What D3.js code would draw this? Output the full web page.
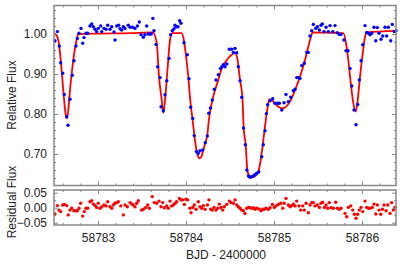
<!DOCTYPE html>
<html>
<head>
<meta charset="utf-8">
<script src="https://cdn.jsdelivr.net/npm/d3@7"></script>
<style>
  html, body { margin: 0; padding: 0; background: #fff; }
  svg text { font-family: "Liberation Sans", Arial, sans-serif; font-size: 12px; fill: #222; }
</style>
</head>
<body>
<div id="chart"></div>
<script>
// observed light curve (BJD - 2400000, relative flux)
const obsTime = [58782.511,58782.538,58782.560,58782.576,58782.599,58782.617,58782.644,58782.659,58782.682,58782.708,
  58782.727,58782.750,58782.765,58782.784,58782.807,58782.826,58782.841,58782.864,58782.883,58782.909,
  58782.928,58782.947,58782.966,58782.985,58783.003,58783.031,58783.042,58783.068,58783.091,58783.110,
  58783.136,58783.156,58783.182,58783.193,58783.213,58783.235,58783.250,58783.269,58783.288,58783.307,
  58783.344,58783.364,58783.394,58783.420,58783.447,58783.469,58783.489,58783.515,58783.534,58783.553,
  58783.572,58783.591,58783.605,58783.623,58783.636,58783.659,58783.678,58783.705,58783.716,58783.742,
  58783.761,58783.781,58783.807,58783.826,58783.844,58783.864,58783.875,58783.894,58783.909,58783.928,
  58783.943,58783.977,58784.015,58784.034,58784.053,58784.076,58784.094,58784.118,58784.139,58784.159,
  58784.190,58784.219,58784.242,58784.258,58784.278,58784.299,58784.322,58784.341,58784.367,58784.392,
  58784.408,58784.424,58784.443,58784.463,58784.492,58784.519,58784.538,58784.557,58784.576,58784.594,
  58784.614,58784.633,58784.653,58784.674,58784.691,58784.710,58784.727,58784.747,58784.765,58784.784,
  58784.803,58784.826,58784.860,58784.878,58784.898,58784.913,58784.927,58784.955,58784.985,58785.011,
  58785.038,58785.060,58785.088,58785.114,58785.136,58785.163,58785.190,58785.219,58785.239,58785.258,
  58785.276,58785.295,58785.315,58785.344,58785.372,58785.390,58785.409,58785.428,58785.447,58785.474,
  58785.492,58785.515,58785.534,58785.549,58785.568,58785.591,58785.617,58785.636,58785.667,58785.693,
  58785.719,58785.742,58785.761,58785.795,58785.818,58785.841,58785.864,58785.883,58785.909,58785.932,
  58785.951,58785.969,58785.989,58786.008,58786.034,58786.053,58786.072,58786.091,58786.110,58786.136,
  58786.156,58786.174,58786.193,58786.216,58786.235,58786.261,58786.280,58786.299,58786.326,58786.344,
  58786.367,58786.386];
const obsFlux = [0.983,1.006,0.970,0.928,0.902,0.849,0.793,0.772,0.837,0.897,
  0.933,0.970,0.989,1.002,1.014,0.977,0.991,1.002,1.002,1.020,
  1.025,1.018,1.012,1.006,1.014,1.020,1.006,1.014,1.012,1.022,
  1.012,1.018,1.005,0.985,1.020,1.022,1.013,1.010,1.018,1.014,
  1.022,1.017,1.017,1.014,1.020,1.030,0.998,0.992,0.998,1.020,
  1.000,1.000,1.000,1.039,1.008,0.974,0.918,0.891,0.818,0.808,
  0.848,0.883,0.939,0.998,1.008,1.013,1.022,1.018,1.018,1.033,
  1.027,0.978,0.948,0.888,0.817,0.789,0.746,0.706,0.702,0.708,
  0.710,0.728,0.745,0.802,0.815,0.835,0.862,0.885,0.898,0.914,
  0.918,0.923,0.918,0.925,0.962,0.962,0.954,0.964,0.953,0.918,
  0.883,0.842,0.765,0.723,0.660,0.645,0.642,0.643,0.645,0.648,
  0.652,0.655,0.693,0.723,0.758,0.801,0.823,0.833,0.838,0.827,
  0.827,0.827,0.810,0.828,0.849,0.831,0.842,0.858,0.862,0.891,
  0.891,0.889,0.921,0.927,0.954,0.954,0.995,1.008,1.024,1.014,
  1.018,1.010,1.022,1.025,1.006,1.017,1.006,1.021,1.006,1.021,
  1.003,0.999,0.999,0.985,0.958,0.958,0.914,0.870,0.810,0.773,
  0.824,0.885,0.933,0.973,1.021,1.004,1.002,0.998,1.002,1.017,
  0.983,1.016,1.002,0.987,0.995,1.017,0.995,1.017,0.983,1.024,
  1.006,1.008];

// fitted model
const modelTime = [58782.500,58782.523,58782.549,58782.568,58782.591,58782.608,58782.633,58782.644,58782.659,58782.682,
  58782.719,58782.750,58782.776,58783.023,58783.364,58783.622,58783.667,58783.693,58783.724,58783.742,
  58783.765,58783.792,58783.818,58783.844,58783.950,58783.975,58784.000,58784.025,58784.050,58784.075,
  58784.100,58784.125,58784.151,58784.174,58784.197,58784.219,58784.242,58784.262,58784.292,58784.330,
  58784.367,58784.406,58784.463,58784.519,58784.557,58784.583,58784.614,58784.640,58784.656,58784.678,
  58784.697,58784.719,58784.747,58784.784,58784.822,58784.845,58784.867,58784.890,58784.917,58784.935,
  58784.947,58784.992,58785.049,58785.099,58785.144,58785.190,58785.239,58785.295,58785.352,58785.409,
  58785.440,58785.636,58785.788,58785.818,58785.844,58785.872,58785.901,58785.928,58785.951,58785.977,
  58786.008,58786.034,58786.053,58786.386];
const modelFlux = [1.001,0.998,0.985,0.953,0.898,0.853,0.798,0.789,0.803,0.860,
  0.935,0.978,1.000,1.001,1.002,1.004,0.978,0.893,0.835,0.803,
  0.843,0.918,0.985,1.002,1.002,0.985,0.945,0.895,0.830,0.785,
  0.737,0.703,0.689,0.693,0.710,0.728,0.748,0.789,0.827,0.860,
  0.885,0.914,0.935,0.948,0.952,0.939,0.885,0.843,0.764,0.723,
  0.660,0.645,0.642,0.645,0.656,0.680,0.714,0.756,0.802,0.827,
  0.837,0.831,0.818,0.814,0.820,0.835,0.860,0.893,0.935,0.985,
  1.004,1.003,1.002,0.977,0.935,0.877,0.827,0.806,0.835,0.893,
  0.952,0.993,1.004,1.008];

// residuals (observed - model)
const resTime = [58782.511,58782.538,58782.557,58782.576,58782.599,58782.617,58782.644,58782.662,58782.682,58782.701,
  58782.727,58782.750,58782.765,58782.784,58782.803,58782.826,58782.844,58782.864,58782.883,58782.909,
  58782.928,58782.947,58782.966,58782.985,58783.003,58783.023,58783.042,58783.068,58783.091,58783.110,
  58783.136,58783.156,58783.174,58783.193,58783.213,58783.231,58783.258,58783.288,58783.307,58783.333,
  58783.364,58783.383,58783.401,58783.420,58783.440,58783.458,58783.496,58783.515,58783.542,58783.565,
  58783.583,58783.617,58783.640,58783.667,58783.693,58783.716,58783.735,58783.753,58783.781,58783.799,
  58783.818,58783.837,58783.856,58783.875,58783.894,58783.924,58783.943,58783.962,58783.981,58784.000,
  58784.019,58784.045,58784.057,58784.076,58784.094,58784.114,58784.140,58784.159,58784.178,58784.197,
  58784.216,58784.243,58784.261,58784.281,58784.299,58784.318,58784.341,58784.360,58784.378,58784.398,
  58784.417,58784.435,58784.463,58784.492,58784.511,58784.538,58784.557,58784.576,58784.594,58784.614,
  58784.633,58784.651,58784.670,58784.690,58784.708,58784.727,58784.747,58784.765,58784.784,58784.803,
  58784.830,58784.852,58784.872,58784.890,58784.909,58784.935,58784.955,58784.981,58785.003,58785.023,
  58785.049,58785.076,58785.099,58785.114,58785.136,58785.163,58785.182,58785.201,58785.219,58785.239,
  58785.258,58785.284,58785.303,58785.326,58785.344,58785.364,58785.390,58785.409,58785.428,58785.447,
  58785.466,58785.492,58785.515,58785.534,58785.553,58785.572,58785.591,58785.610,58785.628,58785.648,
  58785.674,58785.701,58785.719,58785.742,58785.761,58785.807,58785.826,58785.844,58785.872,58785.894,
  58785.913,58785.932,58785.951,58785.969,58785.989,58786.008,58786.034,58786.053,58786.072,58786.091,
  58786.117,58786.136,58786.156,58786.174,58786.193,58786.213,58786.231,58786.250,58786.273,58786.292,
  58786.318,58786.337,58786.356,58786.375];
const resFlux = [-0.021,0.007,-0.008,-0.013,0.009,0.011,0.007,-0.024,-0.008,-0.002,
  -0.010,-0.010,-0.010,-0.002,0.015,-0.028,-0.013,-0.002,-0.002,0.020,
  0.023,0.012,0.007,0.001,0.015,-0.002,0.003,0.009,0.006,0.020,
  0.003,-0.002,0.009,0.015,0.017,0.020,0.006,-0.024,0.009,0.003,
  0.017,0.012,0.009,0.003,0.015,0.023,-0.008,-0.005,0.001,0.009,
  -0.002,0.037,0.017,0.015,0.022,0.003,0.017,0.000,0.006,-0.002,
  0.022,0.006,0.009,0.015,0.020,0.031,0.026,0.026,0.011,0.028,
  0.026,-0.002,-0.017,0.001,0.009,-0.005,0.020,0.003,-0.002,0.007,
  -0.005,0.009,0.026,-0.005,-0.008,0.001,-0.008,-0.002,0.012,0.001,
  -0.008,0.003,0.011,0.022,0.017,0.015,0.026,0.009,0.003,-0.002,
  -0.008,-0.010,-0.019,-0.002,0.001,0.000,-0.002,0.000,-0.005,-0.002,
  -0.004,-0.010,-0.005,-0.005,-0.002,-0.005,0.000,0.011,0.001,0.006,
  0.011,0.015,-0.002,0.015,0.031,0.009,0.003,0.007,0.012,0.006,
  0.022,0.006,-0.008,0.006,-0.008,0.015,-0.017,0.009,0.017,0.017,
  0.006,0.009,0.001,0.015,0.018,0.001,0.009,-0.002,0.017,0.000,
  -0.002,0.018,-0.002,-0.005,-0.002,-0.019,-0.030,0.001,0.006,-0.008,
  -0.022,-0.035,-0.022,-0.008,0.001,-0.013,0.022,0.001,-0.002,-0.002,
  0.001,0.012,-0.021,0.009,-0.008,-0.022,-0.005,0.009,-0.010,0.009,
  -0.019,0.017,-0.008,0.001];

const xMajor = [58783, 58784, 58785, 58786];
const fluxMajor = [0.70, 0.80, 0.90, 1.00];
const resMajor = [-0.05, 0.00, 0.05];

const width = 415, height = 264;
const left = 54, right = 396;
const topPanel = { top: 5.5, bottom: 185.5 };
const resPanel = { top: 190, bottom: 225 };
const frameColor = '#888';

const svg = d3.select('#chart').append('svg')
  .attr('width', width)
  .attr('height', height);

const x = d3.scaleLinear().domain([58782.5, 58786.386]).range([left, right]);
const yFlux = d3.scaleLinear().domain([0.62125, 1.07125]).range([topPanel.bottom, topPanel.top]);
const yRes = d3.scaleLinear().domain([-0.0577, 0.059]).range([resPanel.bottom, resPanel.top]);

// minor tick values
const xMinor = d3.range(58782.6, 58786.39, 0.2).filter(v => Math.abs(v - Math.round(v)) > 0.01);
const fluxMinor = d3.range(0.64, 1.07, 0.02).filter(v => Math.abs(v * 10 - Math.round(v * 10)) > 0.01);
const resMinor = [-0.025, 0.025];

function drawFrame(y, panel, yMaj, yMin, yFmt, showX) {
  const g = svg.append('g');

  const addAxis = (axis, tx, ty) => {
    const a = g.append('g').attr('transform', `translate(${tx},${ty})`).call(axis);
    a.select('.domain').remove();
    a.selectAll('line').attr('stroke', frameColor).attr('stroke-width', 1);
    return a;
  };

  // y ticks, left with labels, right mirrored
  addAxis(d3.axisLeft(y).tickValues(yMaj).tickSize(-4).tickPadding(7).tickFormat(yFmt), left, 0)
    .selectAll('text').style('font-size', '12px').attr('fill', '#222');
  addAxis(d3.axisLeft(y).tickValues(yMin).tickSize(-2).tickFormat(''), left, 0);
  addAxis(d3.axisRight(y).tickValues(yMaj).tickSize(-4).tickFormat(''), right, 0);
  addAxis(d3.axisRight(y).tickValues(yMin).tickSize(-2).tickFormat(''), right, 0);

  // x ticks on top and bottom
  addAxis(d3.axisTop(x).tickValues(xMajor).tickSize(-4).tickFormat(''), 0, panel.top);
  addAxis(d3.axisTop(x).tickValues(xMinor).tickSize(-2).tickFormat(''), 0, panel.top);
  const bx = addAxis(d3.axisBottom(x).tickValues(xMajor).tickSize(-4).tickPadding(8)
    .tickFormat(showX ? d3.format('d') : ''), 0, panel.bottom);
  bx.selectAll('text').style('font-size', '12px').attr('fill', '#222');
  addAxis(d3.axisBottom(x).tickValues(xMinor).tickSize(-2).tickFormat(''), 0, panel.bottom);

  g.append('rect')
    .attr('x', left)
    .attr('y', panel.top)
    .attr('width', right - left)
    .attr('height', panel.bottom - panel.top)
    .attr('fill', 'none')
    .attr('stroke', frameColor)
    .attr('stroke-width', 1.5);
}

// top panel: model and data
const obs = obsTime.map((t, i) => ({ t: t, f: obsFlux[i] }));
const model = modelTime.map((t, i) => ({ t: t, f: modelFlux[i] }));
const res = resTime.map((t, i) => ({ t: t, r: resFlux[i] }));

svg.append('path')
  .datum(model)
  .attr('fill', 'none')
  .attr('stroke', '#ff0000')
  .attr('stroke-width', 1.8)
  .attr('d', d3.line().x(d => x(d.t)).y(d => yFlux(d.f)).curve(d3.curveMonotoneX));

svg.append('g').selectAll('circle')
  .data(obs)
  .join('circle')
    .attr('cx', d => x(d.t))
    .attr('cy', d => yFlux(d.f))
    .attr('r', 1.7)
    .attr('fill', '#0000ff');

svg.append('g').selectAll('circle')
  .data(res)
  .join('circle')
    .attr('cx', d => x(d.t))
    .attr('cy', d => yRes(d.r))
    .attr('r', 1.7)
    .attr('fill', '#ff0000');

drawFrame(yFlux, topPanel, fluxMajor, fluxMinor, d3.format('.2f'), false);
drawFrame(yRes, resPanel, resMajor, resMinor, d3.format('.2f'), true);

// axis titles
svg.append('text')
  .attr('transform', 'translate(16,95) rotate(-90)')
  .attr('text-anchor', 'middle')
  .text('Relative Flux');

svg.append('text')
  .attr('transform', 'translate(16,202) rotate(-90)')
  .attr('text-anchor', 'middle')
  .text('Residual Flux');

svg.append('text')
  .attr('x', 226)
  .attr('y', 259)
  .attr('text-anchor', 'middle')
  .text('BJD - 2400000');
</script>
</body>
</html>
